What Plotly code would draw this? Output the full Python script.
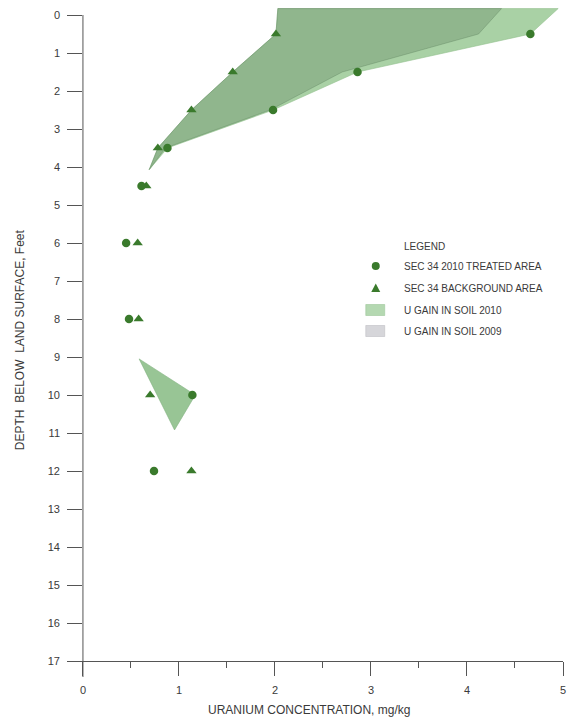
import plotly.graph_objects as go

# ---------------- data ----------------
depth_treated = [0.5, 1.5, 2.5, 3.5, 4.5, 6, 8, 10, 12]
u_treated = [4.66, 2.86, 1.98, 0.88, 0.61, 0.45, 0.48, 1.14, 0.74]

depth_background = [0.5, 1.5, 2.5, 3.5, 4.5, 6, 8, 10, 12]
u_background = [2.01, 1.56, 1.13, 0.78, 0.66, 0.57, 0.58, 0.70, 1.13]

gain2010_u = [2.03, 4.95, 4.66, 2.86, 1.98, 0.88, 0.69, 0.78, 1.13, 1.56, 2.01, 2.03]
gain2010_depth = [-0.17, -0.17, 0.5, 1.5, 2.5, 3.5, 4.07, 3.5, 2.5, 1.5, 0.5, -0.17]

gain2009_u = [2.03, 4.36, 4.12, 2.70, 1.95, 0.86, 0.69, 0.78, 1.13, 1.56, 2.01, 2.03]
gain2009_depth = [-0.17, -0.17, 0.5, 1.5, 2.5, 3.5, 4.07, 3.5, 2.5, 1.5, 0.5, -0.17]

gain2010_deep_u = [0.585, 1.17, 0.954, 0.585]
gain2010_deep_depth = [9.05, 10.0, 10.92, 9.05]

x_ticks = [0, 1, 2, 3, 4, 5]
y_ticks = list(range(0, 18))

legend_labels = ["SEC 34 2010 TREATED AREA", "SEC 34 BACKGROUND AREA",
                 "U GAIN IN SOIL 2010", "U GAIN IN SOIL 2009"]

# ---------------- style ----------------
W, H = 570, 723
ML, MR, MT, MB = 67, 5, 4, 62
PW, PH = W - ML - MR, H - MT - MB
X_RANGE = [-0.166, 5.0]
Y_RANGE = [17, -0.2895]
MARK = "#3a7a2c"
FILL10 = "#a9d1a5"
FILL09 = "rgba(85,120,85,0.30)"
AX = "#555555"
TXT = "#3a3a3a"
FONT = "Liberation Sans, Arial, sans-serif"


def px(xp):
    return (xp - ML) / PW


def py(yp):
    return (H - MB - yp) / PH


fig = go.Figure()

fig.add_trace(go.Scatter(x=gain2010_u, y=gain2010_depth, mode="lines", fill="toself",
                         fillcolor=FILL10, line=dict(color="#93c18f", width=0.6),
                         hoverinfo="skip", showlegend=False))
fig.add_trace(go.Scatter(x=gain2009_u, y=gain2009_depth, mode="lines", fill="toself",
                         fillcolor=FILL09, line=dict(color="rgba(90,125,90,0.6)", width=0.6),
                         hoverinfo="skip", showlegend=False))
fig.add_trace(go.Scatter(x=gain2010_deep_u, y=gain2010_deep_depth, mode="lines", fill="toself",
                         fillcolor="#98c595", line=dict(color="#82b27f", width=0.6),
                         hoverinfo="skip", showlegend=False))

fig.add_trace(go.Scatter(x=u_background, y=depth_background, mode="markers",
                         marker=dict(symbol="triangle-up", size=9, color=MARK),
                         showlegend=False))
fig.add_trace(go.Scatter(x=u_treated, y=depth_treated, mode="markers",
                         marker=dict(symbol="circle", size=8.5, color=MARK),
                         showlegend=False))

shapes = []
# vertical axis line at x = 0 (from depth 0 down past 17)
shapes.append(dict(type="line", xref="x", yref="paper", x0=0, x1=0,
                   y0=py(677), y1=py(15), line=dict(color=AX, width=1)))

# ---- custom legend ----
annotations = []
annotations.append(dict(text="LEGEND", xref="paper", yref="paper", x=px(403), y=py(246),
                        xanchor="left", yanchor="middle", showarrow=False,
                        font=dict(size=10, color=TXT, family=FONT)))
rows = [266, 288, 310, 331]
for lab, ry in zip(legend_labels, rows):
    annotations.append(dict(text=lab, xref="paper", yref="paper", x=px(403), y=py(ry),
                            xanchor="left", yanchor="middle", showarrow=False,
                            font=dict(size=10, color=TXT, family=FONT)))
cx = 377
shapes.append(dict(type="circle", xref="paper", yref="paper",
                   x0=px(cx - 4), x1=px(cx + 4), y0=py(rows[0] + 4), y1=py(rows[0] - 4),
                   fillcolor=MARK, line=dict(width=0)))
shapes.append(dict(type="path", xref="paper", yref="paper",
                   path="M {} {} L {} {} L {} {} Z".format(
                       px(cx - 4.5), py(rows[1] + 4), px(cx + 4.5), py(rows[1] + 4),
                       px(cx), py(rows[1] - 4.5)),
                   fillcolor=MARK, line=dict(width=0)))
shapes.append(dict(type="rect", xref="paper", yref="paper",
                   x0=px(367), x1=px(386), y0=py(rows[2] + 5.5), y1=py(rows[2] - 5.5),
                   fillcolor="#b4d8b1", line=dict(color="#9cc699", width=0.6)))
shapes.append(dict(type="rect", xref="paper", yref="paper",
                   x0=px(367), x1=px(386), y0=py(rows[3] + 5.5), y1=py(rows[3] - 5.5),
                   fillcolor="#d6d6da", line=dict(color="#bdbdc2", width=0.6)))

# axis titles
annotations.append(dict(text="URANIUM CONCENTRATION, mg/kg", xref="paper", yref="paper",
                        x=px(310), y=py(710), xanchor="center", yanchor="middle",
                        showarrow=False, font=dict(size=12, color=TXT, family=FONT)))
annotations.append(dict(text="DEPTH  BELOW  LAND SURFACE, Feet", xref="paper", yref="paper",
                        x=px(20), y=py(340), xanchor="center", yanchor="middle",
                        textangle=-90, showarrow=False,
                        font=dict(size=12, color=TXT, family=FONT)))

fig.update_layout(
    width=W, height=H,
    margin=dict(l=ML, r=MR, t=MT, b=MB),
    paper_bgcolor="white", plot_bgcolor="white",
    font=dict(family=FONT, size=11, color=TXT),
    shapes=shapes, annotations=annotations,
    showlegend=False,
    xaxis=dict(range=X_RANGE, tickvals=x_ticks, ticktext=[str(v) for v in x_ticks],
               showgrid=False, zeroline=False, showline=True, linecolor=AX, linewidth=1,
               ticks="outside", ticklen=14, tickcolor=AX, tickwidth=1,
               minor=dict(dtick=0.5, tick0=0, ticks="outside", ticklen=6, tickcolor=AX),
               tickfont=dict(size=11, color=TXT), ticklabelstandoff=5),
    yaxis=dict(range=Y_RANGE, tickvals=y_ticks, ticktext=[str(v) for v in y_ticks],
               showgrid=False, zeroline=False, showline=False,
               ticks="inside", ticklen=15, tickcolor=AX, tickwidth=1,
               tickfont=dict(size=11, color=TXT), ticklabelstandoff=6),
)

fig.write_html("out.html", config={"displayModeBar": False},
               post_script="document.body.style.margin='0px';document.body.style.overflow='hidden';")
